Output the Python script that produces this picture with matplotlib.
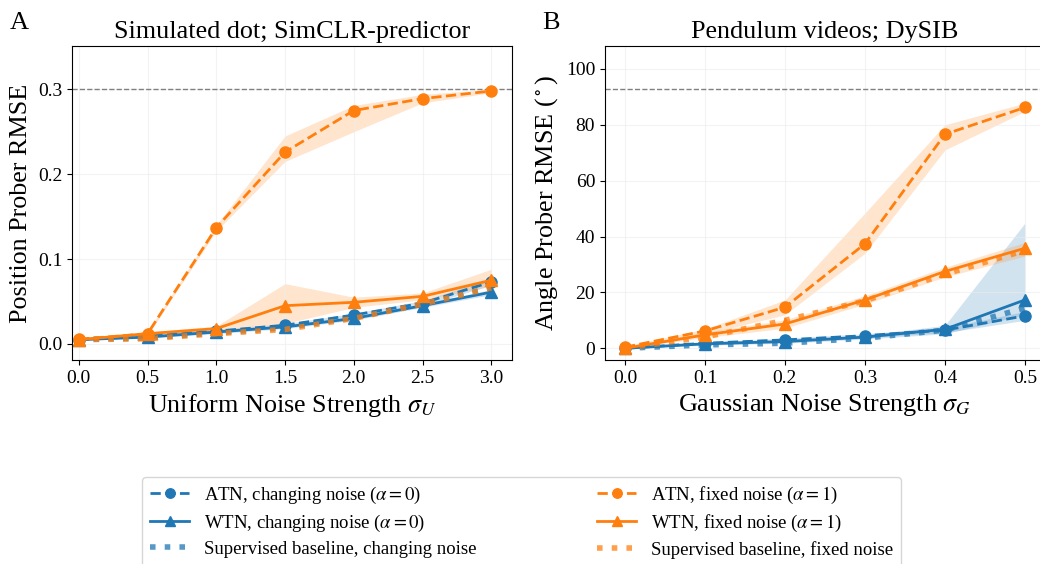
import matplotlib
matplotlib.use("Agg")
import matplotlib.pyplot as plt
import numpy as np

plt.rcParams['font.family'] = ['Liberation Serif', 'DejaVu Serif']
plt.rcParams['mathtext.fontset'] = 'stix'

BLUE = '#1f77b4'
ORANGE = '#ff7f0e'

# Panel A: simulated dot
sigma_u = [0.0, 0.5, 1.0, 1.5, 2.0, 2.5, 3.0]
a_atn_change = [0.005, 0.009, 0.015, 0.022, 0.034, 0.048, 0.073]
a_atn_change_lo = [0.004, 0.008, 0.013, 0.020, 0.031, 0.045, 0.069]
a_atn_change_hi = [0.006, 0.010, 0.017, 0.024, 0.036, 0.051, 0.077]
a_wtn_change = [0.005, 0.008, 0.014, 0.020, 0.030, 0.045, 0.061]
a_wtn_change_lo = [0.004, 0.007, 0.012, 0.018, 0.028, 0.043, 0.058]
a_wtn_change_hi = [0.006, 0.009, 0.016, 0.022, 0.032, 0.047, 0.064]
a_sup_change = [0.005, 0.007, 0.013, 0.019, 0.031, 0.047, 0.066]
a_atn_fixed = [0.0055, 0.012, 0.137, 0.226, 0.275, 0.289, 0.298]
a_atn_fixed_lo = [0.004, 0.010, 0.133, 0.215, 0.250, 0.284, 0.296]
a_atn_fixed_hi = [0.007, 0.014, 0.140, 0.245, 0.281, 0.294, 0.300]
a_wtn_fixed = [0.005, 0.012, 0.018, 0.045, 0.049, 0.056, 0.075]
a_wtn_fixed_lo = [0.004, 0.010, 0.015, 0.024, 0.043, 0.052, 0.068]
a_wtn_fixed_hi = [0.006, 0.014, 0.021, 0.071, 0.055, 0.060, 0.088]
a_sup_fixed = [0.005, 0.006, 0.012, 0.017, 0.030, 0.047, 0.066]
a_ref = 0.3

# Panel B: pendulum videos
sigma_g = [0.0, 0.1, 0.2, 0.3, 0.4, 0.5]
b_atn_change = [0.0, 1.8, 3.0, 4.5, 6.5, 11.6]
b_atn_change_lo = [0.0, 1.3, 2.4, 3.8, 5.6, 10.0]
b_atn_change_hi = [0.3, 2.3, 3.6, 5.2, 7.4, 13.2]
b_wtn_change = [0.0, 1.6, 2.4, 4.0, 6.8, 17.3]
b_wtn_change_lo = [0.0, 1.1, 1.8, 3.3, 5.2, 12.0]
b_wtn_change_hi = [0.3, 2.1, 3.0, 4.7, 8.2, 44.8]
b_sup_change = [0.0, 1.2, 1.8, 3.6, 6.5, 14.4]
b_atn_fixed = [0.4, 6.2, 14.7, 37.4, 76.6, 86.2]
b_atn_fixed_lo = [0.0, 5.0, 12.0, 34.0, 71.0, 84.8]
b_atn_fixed_hi = [0.8, 6.9, 17.3, 48.4, 80.0, 87.8]
b_wtn_fixed = [0.0, 4.8, 8.7, 17.3, 27.5, 35.8]
b_wtn_fixed_lo = [0.0, 3.8, 7.2, 15.8, 25.5, 33.0]
b_wtn_fixed_hi = [0.4, 5.8, 10.2, 18.8, 29.0, 37.9]
b_sup_fixed = [0.0, 4.0, 10.0, 17.0, 26.5, 35.0]
b_ref = 92.7

fig = plt.figure(figsize=(10.4, 5.64), dpi=100)
ax1 = fig.add_axes([0.0692, 0.3617, 0.423, 0.5567])
ax2 = fig.add_axes([0.5817, 0.3617, 0.423, 0.5567])


def draw(ax, x, atn_c, atn_c_lo, atn_c_hi, wtn_c, wtn_c_lo, wtn_c_hi, sup_c,
         atn_f, atn_f_lo, atn_f_hi, wtn_f, wtn_f_lo, wtn_f_hi, sup_f, ref):
    ax.grid(True, color='#ececec', lw=0.8, alpha=0.6)
    ax.axhline(ref, color='gray', ls='--', lw=1, zorder=2)
    h = []
    h += ax.plot(x, atn_c, '--', color=BLUE, marker='o', ms=8, lw=2,
                 label=r'ATN, changing noise ($\alpha=0$)')
    ax.fill_between(x, atn_c_lo, atn_c_hi, color=BLUE, alpha=0.2, lw=0)
    h += ax.plot(x, wtn_c, '-', color=BLUE, marker='^', ms=9, lw=2,
                 label=r'WTN, changing noise ($\alpha=0$)')
    ax.fill_between(x, wtn_c_lo, wtn_c_hi, color=BLUE, alpha=0.2, lw=0)
    h += ax.plot(x, sup_c, ':', color=BLUE, lw=4, alpha=0.75,
                 label='Supervised baseline, changing noise')
    h += ax.plot(x, atn_f, '--', color=ORANGE, marker='o', ms=8, lw=2,
                 label=r'ATN, fixed noise ($\alpha=1$)')
    ax.fill_between(x, atn_f_lo, atn_f_hi, color=ORANGE, alpha=0.2, lw=0)
    h += ax.plot(x, wtn_f, '-', color=ORANGE, marker='^', ms=9, lw=2,
                 label=r'WTN, fixed noise ($\alpha=1$)')
    ax.fill_between(x, wtn_f_lo, wtn_f_hi, color=ORANGE, alpha=0.2, lw=0)
    h += ax.plot(x, sup_f, ':', color=ORANGE, lw=4, alpha=0.75,
                 label='Supervised baseline, fixed noise')
    ax.tick_params(labelsize=14)
    return h


handles = draw(ax1, sigma_u, a_atn_change, a_atn_change_lo, a_atn_change_hi,
               a_wtn_change, a_wtn_change_lo, a_wtn_change_hi, a_sup_change,
               a_atn_fixed, a_atn_fixed_lo, a_atn_fixed_hi,
               a_wtn_fixed, a_wtn_fixed_lo, a_wtn_fixed_hi, a_sup_fixed, a_ref)
draw(ax2, sigma_g, b_atn_change, b_atn_change_lo, b_atn_change_hi,
     b_wtn_change, b_wtn_change_lo, b_wtn_change_hi, b_sup_change,
     b_atn_fixed, b_atn_fixed_lo, b_atn_fixed_hi,
     b_wtn_fixed, b_wtn_fixed_lo, b_wtn_fixed_hi, b_sup_fixed, b_ref)

ax1.set_xlim(-0.05, 3.15)
ax1.set_ylim(-0.019, 0.351)
ax1.set_xticks(sigma_u)
ax1.set_yticks([0.0, 0.1, 0.2, 0.3])
ax1.set_title('Simulated dot; SimCLR-predictor', fontsize=18.8)
ax1.set_xlabel(r'Uniform Noise Strength $\sigma_U$', fontsize=18.8)
ax1.set_ylabel('Position Prober RMSE', fontsize=18.8)

ax2.set_xlim(-0.025, 0.525)
ax2.set_ylim(-4.2, 108.2)
ax2.set_xticks(sigma_g)
ax2.set_yticks([0, 20, 40, 60, 80, 100])
ax2.set_title('Pendulum videos; DySIB', fontsize=18.8)
ax2.set_xlabel(r'Gaussian Noise Strength $\sigma_G$', fontsize=18.8)
ax2.set_ylabel(r'Angle Prober RMSE ($^\circ$)', fontsize=18.8)

fig.text(0.009, 0.96, 'A', fontsize=19, va='center')
fig.text(0.521, 0.96, 'B', fontsize=19, va='center')

fig.legend(handles=handles, loc='upper left', bbox_to_anchor=(0.128, 0.171),
           ncol=2, fontsize=13.5, columnspacing=6.4, handlelength=2.1,
           handletextpad=0.8, markerscale=0.85, labelspacing=0.38,
           frameon=True, edgecolor='#cccccc')

fig.savefig('out.png', dpi=100)
